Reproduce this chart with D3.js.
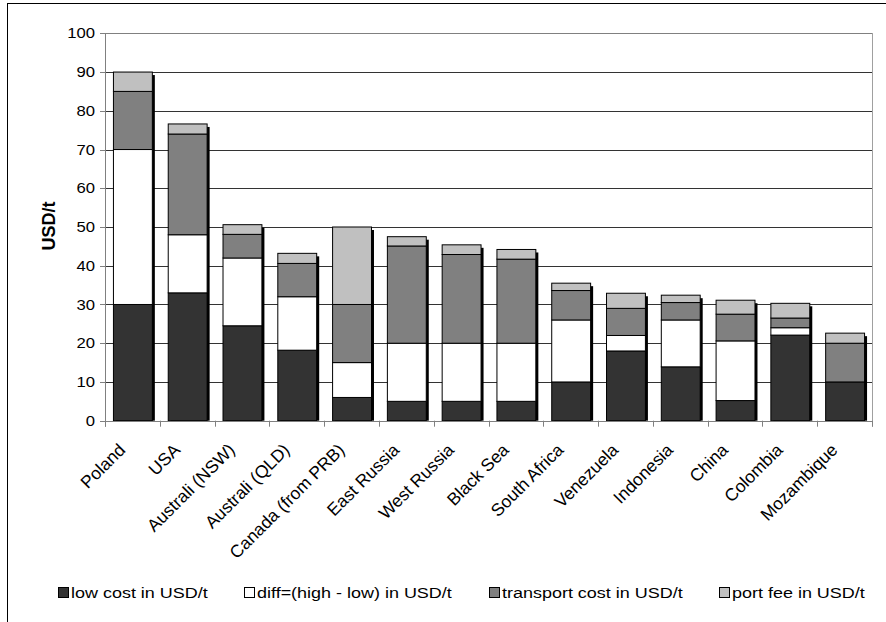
<!DOCTYPE html>
<html>
<head>
<meta charset="utf-8">
<script src="https://cdn.jsdelivr.net/npm/d3@7"></script>
<style>
  html, body { margin: 0; padding: 0; background: #fff; }
  svg { display: block; font-family: "Liberation Sans", Arial, sans-serif; }
</style>
</head>
<body>
<svg id="chart" width="886" height="622"></svg>
<script>
const categories = ["Poland", "USA", "Australi (NSW)", "Australi (QLD)", "Canada (from PRB)", "East Russia", "West Russia", "Black Sea", "South Africa", "Venezuela", "Indonesia", "China", "Colombia", "Mozambique"];
const lowCost   = [30, 33, 24.5, 18.2, 6, 5, 5, 5, 10, 18, 13.9, 5.2, 22.1, 10];
const diffCost  = [40, 15, 17.5, 13.8, 9, 15, 15, 15, 16, 4, 12.1, 15.4, 1.9, 0];
const transport = [15, 26, 6.1, 8.6, 15, 25.1, 22.9, 21.7, 7.6, 7, 4.5, 6.9, 2.5, 10];
const portFee   = [5, 2.6, 2.5, 2.6, 20, 2.4, 2.5, 2.5, 1.9, 3.9, 1.9, 3.6, 3.8, 2.6];
const seriesNames = ["low cost in USD/t", "diff=(high - low) in USD/t", "transport cost in USD/t", "port fee in USD/t"];
const yTicks = [0, 10, 20, 30, 40, 50, 60, 70, 80, 90, 100];
const yTitle = "USD/t";

const colors = ["#333333", "#ffffff", "#808080", "#c0c0c0"];
const seriesKeys = ["low", "diff", "transport", "port"];
const table = categories.map((c, i) => ({ cat: c, low: lowCost[i], diff: diffCost[i], transport: transport[i], port: portFee[i] }));
const stacked = d3.stack().keys(seriesKeys)(table);

const svg = d3.select("#chart");
const L = 105, R = 872, T = 33.3, B = 420.7;
const x = d3.scaleBand().domain(categories).range([L, R]).paddingInner(0.29).paddingOuter(0.145);
const y = d3.scaleLinear().domain([0, 100]).range([B, T]);
const step = (R - L) / categories.length;
const sx = 1.15;

// outer frame
svg.append("rect").attr("x", 7.5).attr("y", 3.5).attr("width", 900).attr("height", 640)
  .attr("fill", "none").attr("stroke", "#000").attr("stroke-width", 1);

// gridlines
svg.append("g").selectAll("line").data(yTicks.filter(t => t > 0 && t < 100)).join("line")
  .attr("x1", L).attr("x2", R).attr("y1", d => Math.round(y(d)) + 0.5).attr("y2", d => Math.round(y(d)) + 0.5)
  .attr("stroke", "#333").attr("stroke-width", 1);
// plot border top/right
svg.append("line").attr("x1", L).attr("x2", R).attr("y1", Math.round(y(100)) + 0.5).attr("y2", Math.round(y(100)) + 0.5)
  .attr("stroke", "#808080");
svg.append("line").attr("x1", R + 0.5).attr("x2", R + 0.5).attr("y1", Math.round(y(100))).attr("y2", B + 6)
  .attr("stroke", "#a0a0a0");

// bars: shadows first
const barG = svg.append("g");
const bw = x.bandwidth();
barG.selectAll("rect.shadow").data(table).join("rect").attr("class", "shadow")
  .attr("x", d => x(d.cat) + 3).attr("y", d => y(d.low + d.diff + d.transport + d.port) + 3)
  .attr("width", bw).attr("height", d => Math.max(0, B - y(d.low + d.diff + d.transport + d.port) - 3))
  .attr("fill", "#000");
stacked.forEach((s, si) => {
  barG.append("g").selectAll("rect").data(s).join("rect")
    .attr("x", (d, i) => x(categories[i]) + 0.5)
    .attr("y", d => y(d[1]))
    .attr("width", bw)
    .attr("height", d => y(d[0]) - y(d[1]))
    .attr("fill", colors[si]).attr("stroke", "#000").attr("stroke-width", 1);
});

// y axis
svg.append("line").attr("x1", L + 0.5).attr("x2", L + 0.5).attr("y1", T).attr("y2", B + 6).attr("stroke", "#808080");
const yt = svg.append("g");
yt.selectAll("line").data(yTicks).join("line")
  .attr("x1", L - 5).attr("x2", L).attr("y1", d => Math.round(y(d)) + 0.5).attr("y2", d => Math.round(y(d)) + 0.5)
  .attr("stroke", "#808080");
yt.selectAll("text").data(yTicks).join("text")
  .attr("transform", d => `translate(95,${y(d)}) scale(${sx},1)`)
  .attr("text-anchor", "end").attr("dy", "0.35em").attr("font-size", 14.5).attr("fill", "#000")
  .text(d => d);

// x axis
svg.append("line").attr("x1", L).attr("x2", R).attr("y1", Math.round(B) + 0.5).attr("y2", Math.round(B) + 0.5).attr("stroke", "#808080");
const bounds = d3.range(categories.length + 1).map(i => L + i * step);
svg.append("g").selectAll("line").data(bounds).join("line")
  .attr("x1", d => Math.round(d) + 0.5).attr("x2", d => Math.round(d) + 0.5)
  .attr("y1", B).attr("y2", B + 6).attr("stroke", "#808080");
svg.append("g").selectAll("text").data(categories).join("text")
  .attr("transform", d => `translate(${x(d) + bw / 2 - 6},451) rotate(-45)`)
  .attr("text-anchor", "end").attr("font-size", 17.5).attr("fill", "#000")
  .text(d => d);

// y title
svg.append("text").attr("transform", "translate(55,226) rotate(-90)")
  .attr("text-anchor", "middle").attr("font-size", 18).attr("font-weight", "bold").text(yTitle);

// legend
const legX = [58, 244, 489, 719];
const lg = svg.append("g");
seriesNames.forEach((n, i) => {
  lg.append("rect").attr("x", legX[i] + 0.5).attr("y", 587.5).attr("width", 10).attr("height", 10)
    .attr("fill", colors[i]).attr("stroke", "#000");
  lg.append("text").attr("transform", `translate(${legX[i] + 13},597.5) scale(1.16,1)`)
    .attr("font-size", 15.5).attr("fill", "#000").text(n);
});
</script>
</body>
</html>
